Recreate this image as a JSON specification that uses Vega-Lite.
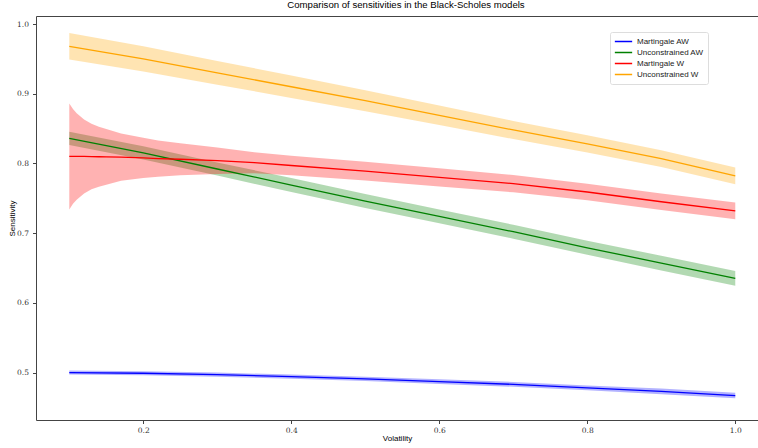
{
  "$schema": "https://vega.github.io/schema/vega-lite/v6.json",
  "width": 722,
  "height": 404,
  "autosize": {"type": "none"},
  "padding": {"left": 36, "top": 16, "right": 0, "bottom": 28},
  "background": "white",
  "title": {
    "text": "Comparison of sensitivities in the Black-Scholes models",
    "font": "Liberation Sans",
    "fontSize": 9.6,
    "fontWeight": "normal",
    "color": "#000",
    "anchor": "middle",
    "baseline": "bottom",
    "offset": -4,
    "dx": 9
  },
  "config": {
    "view": {"stroke": null},
    "axis": {
      "grid": false,
      "domainColor": "#444",
      "tickColor": "#444",
      "tickSize": 3.5,
      "labelFont": "DejaVu Serif",
      "labelFontSize": 7.5,
      "labelColor": "#333",
      "titleFont": "Liberation Sans",
      "titleFontSize": 8,
      "titleFontWeight": "normal",
      "titleColor": "#000"
    },
    "legend": {
      "title": null,
      "orient": "none",
      "legendX": 574,
      "legendY": 16,
      "symbolType": "stroke",
      "symbolSize": 300,
      "symbolStrokeWidth": 1.5,
      "labelFont": "Liberation Sans",
      "labelFontSize": 8,
      "labelColor": "#222",
      "clipHeight": 11,
      "rowPadding": 0,
      "padding": 4,
      "strokeColor": "#ddd",
      "fillColor": "white",
      "cornerRadius": 2
    }
  },
  "data": {
    "values": [
      {"model": "Martingale AW", "vol": 0.1, "mean": 0.5, "lo": 0.497, "hi": 0.503},
      {"model": "Martingale AW", "vol": 0.2, "mean": 0.499, "lo": 0.496, "hi": 0.502},
      {"model": "Martingale AW", "vol": 0.3, "mean": 0.497, "lo": 0.494, "hi": 0.5},
      {"model": "Martingale AW", "vol": 0.4, "mean": 0.494, "lo": 0.491, "hi": 0.497},
      {"model": "Martingale AW", "vol": 0.5, "mean": 0.491, "lo": 0.488, "hi": 0.494},
      {"model": "Martingale AW", "vol": 0.6, "mean": 0.487, "lo": 0.4835, "hi": 0.4905},
      {"model": "Martingale AW", "vol": 0.7, "mean": 0.483, "lo": 0.4795, "hi": 0.4865},
      {"model": "Martingale AW", "vol": 0.8, "mean": 0.478, "lo": 0.4745, "hi": 0.4815},
      {"model": "Martingale AW", "vol": 0.9, "mean": 0.473, "lo": 0.469, "hi": 0.477},
      {"model": "Martingale AW", "vol": 1.0, "mean": 0.467, "lo": 0.463, "hi": 0.471},

      {"model": "Unconstrained AW", "vol": 0.1, "mean": 0.836, "lo": 0.8265, "hi": 0.8455},
      {"model": "Unconstrained AW", "vol": 0.2, "mean": 0.815, "lo": 0.8055, "hi": 0.8245},
      {"model": "Unconstrained AW", "vol": 0.3, "mean": 0.792, "lo": 0.7825, "hi": 0.8015},
      {"model": "Unconstrained AW", "vol": 0.4, "mean": 0.769, "lo": 0.759, "hi": 0.779},
      {"model": "Unconstrained AW", "vol": 0.5, "mean": 0.746, "lo": 0.736, "hi": 0.756},
      {"model": "Unconstrained AW", "vol": 0.6, "mean": 0.724, "lo": 0.714, "hi": 0.734},
      {"model": "Unconstrained AW", "vol": 0.7, "mean": 0.702, "lo": 0.692, "hi": 0.712},
      {"model": "Unconstrained AW", "vol": 0.8, "mean": 0.679, "lo": 0.669, "hi": 0.689},
      {"model": "Unconstrained AW", "vol": 0.9, "mean": 0.657, "lo": 0.6465, "hi": 0.6675},
      {"model": "Unconstrained AW", "vol": 1.0, "mean": 0.635, "lo": 0.6245, "hi": 0.6455},

      {"model": "Martingale W", "vol": 0.1, "mean": 0.81, "lo": 0.734, "hi": 0.886},
      {"model": "Martingale W", "vol": 0.105, "mean": 0.81, "lo": 0.742, "hi": 0.878},
      {"model": "Martingale W", "vol": 0.11, "mean": 0.81, "lo": 0.748, "hi": 0.872},
      {"model": "Martingale W", "vol": 0.12, "mean": 0.81, "lo": 0.757, "hi": 0.863},
      {"model": "Martingale W", "vol": 0.13, "mean": 0.8098, "lo": 0.7628, "hi": 0.8568},
      {"model": "Martingale W", "vol": 0.14, "mean": 0.8096, "lo": 0.7666, "hi": 0.8526},
      {"model": "Martingale W", "vol": 0.15, "mean": 0.8094, "lo": 0.7694, "hi": 0.8494},
      {"model": "Martingale W", "vol": 0.17, "mean": 0.809, "lo": 0.775, "hi": 0.843},
      {"model": "Martingale W", "vol": 0.2, "mean": 0.808, "lo": 0.779, "hi": 0.837},
      {"model": "Martingale W", "vol": 0.22, "mean": 0.807, "lo": 0.781, "hi": 0.833},
      {"model": "Martingale W", "vol": 0.25, "mean": 0.806, "lo": 0.783, "hi": 0.829},
      {"model": "Martingale W", "vol": 0.3, "mean": 0.804, "lo": 0.785, "hi": 0.823},
      {"model": "Martingale W", "vol": 0.35, "mean": 0.801, "lo": 0.786, "hi": 0.816},
      {"model": "Martingale W", "vol": 0.4, "mean": 0.797, "lo": 0.783, "hi": 0.811},
      {"model": "Martingale W", "vol": 0.5, "mean": 0.789, "lo": 0.7755, "hi": 0.8025},
      {"model": "Martingale W", "vol": 0.6, "mean": 0.78, "lo": 0.767, "hi": 0.793},
      {"model": "Martingale W", "vol": 0.7, "mean": 0.771, "lo": 0.7585, "hi": 0.7835},
      {"model": "Martingale W", "vol": 0.8, "mean": 0.759, "lo": 0.747, "hi": 0.771},
      {"model": "Martingale W", "vol": 0.9, "mean": 0.745, "lo": 0.733, "hi": 0.757},
      {"model": "Martingale W", "vol": 1.0, "mean": 0.732, "lo": 0.72, "hi": 0.744},

      {"model": "Unconstrained W", "vol": 0.1, "mean": 0.968, "lo": 0.949, "hi": 0.987},
      {"model": "Unconstrained W", "vol": 0.2, "mean": 0.95, "lo": 0.932, "hi": 0.968},
      {"model": "Unconstrained W", "vol": 0.3, "mean": 0.93, "lo": 0.913, "hi": 0.947},
      {"model": "Unconstrained W", "vol": 0.4, "mean": 0.91, "lo": 0.894, "hi": 0.926},
      {"model": "Unconstrained W", "vol": 0.5, "mean": 0.89, "lo": 0.875, "hi": 0.905},
      {"model": "Unconstrained W", "vol": 0.6, "mean": 0.869, "lo": 0.855, "hi": 0.883},
      {"model": "Unconstrained W", "vol": 0.7, "mean": 0.848, "lo": 0.835, "hi": 0.861},
      {"model": "Unconstrained W", "vol": 0.8, "mean": 0.828, "lo": 0.8155, "hi": 0.8405},
      {"model": "Unconstrained W", "vol": 0.9, "mean": 0.807, "lo": 0.795, "hi": 0.819},
      {"model": "Unconstrained W", "vol": 1.0, "mean": 0.782, "lo": 0.77, "hi": 0.794}
    ]
  },
  "layer": [
    {
      "mark": {"type": "area", "fillOpacity": 0.3, "strokeWidth": 0},
      "encoding": {
        "x": {
          "field": "vol", "type": "quantitative",
          "scale": {"domain": [0.055, 1.0307], "nice": false, "zero": false},
          "axis": {"orient": "top", "labels": false, "ticks": false, "title": null, "domain": true}
        },
        "y": {
          "field": "lo", "type": "quantitative",
          "scale": {"domain": [0.4319, 1.0115], "nice": false, "zero": false},
          "axis": {"values": [0.5, 0.6, 0.7, 0.8, 0.9, 1.0], "format": ".1f", "title": "Sensitivity", "labelPadding": 4, "titlePadding": 0}
        },
        "y2": {"field": "hi"},
        "fill": {
          "field": "model", "type": "nominal",
          "scale": {"domain": ["Martingale AW", "Unconstrained AW", "Martingale W", "Unconstrained W"], "range": ["#0000ff", "#008000", "#ff0000", "#ffa500"]}
        }
      }
    },
    {
      "mark": {"type": "line", "strokeWidth": 1.3},
      "encoding": {
        "x": {
          "field": "vol", "type": "quantitative",
          "axis": {"orient": "bottom", "values": [0.2, 0.4, 0.6, 0.8, 1.0], "format": ".1f", "title": "Volatility", "labelPadding": 3, "titlePadding": 0}
        },
        "y": {"field": "mean", "type": "quantitative"},
        "stroke": {
          "field": "model", "type": "nominal",
          "scale": {"domain": ["Martingale AW", "Unconstrained AW", "Martingale W", "Unconstrained W"], "range": ["#0000ff", "#008000", "#ff0000", "#ffa500"]}
        }
      }
    }
  ]
}
